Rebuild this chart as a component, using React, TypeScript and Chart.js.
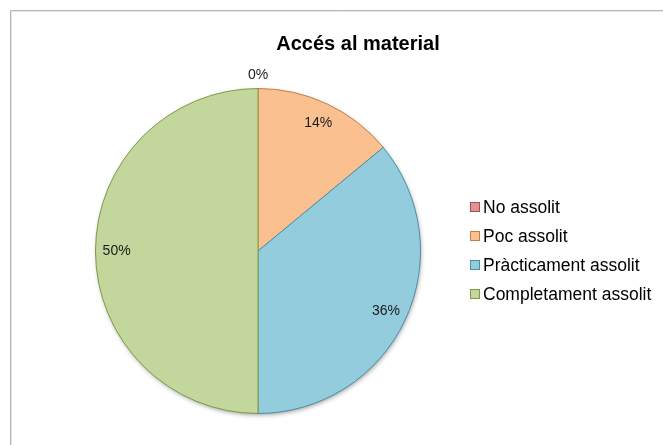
import React, { useEffect, useRef } from "react";
import { Chart, registerables } from "chart.js";

Chart.register(...registerables);

const TITLE = "Accés al material";
const categories = ["No assolit", "Poc assolit", "Pràcticament assolit", "Completament assolit"];
const values = [0, 14, 36, 50];
const fillColors = ["#D99694", "#FAC090", "#93CDDD", "#C3D69B"];
const borderColors = ["#A9504E", "#C27F49", "#4B8FA5", "#7E9A48"];

const decorPlugin = {
  id: "decor",
  beforeDraw(chart: any) {
    const ctx = chart.ctx;
    ctx.save();
    ctx.fillStyle = "#ffffff";
    ctx.fillRect(0, 0, chart.width, chart.height);
    ctx.strokeStyle = "#b8b8b8";
    ctx.lineWidth = 1;
    ctx.beginPath();
    ctx.moveTo(10.5, chart.height);
    ctx.lineTo(10.5, 10.5);
    ctx.lineTo(chart.width, 10.5);
    ctx.stroke();
    ctx.strokeStyle = "#e4e4e4";
    ctx.beginPath();
    ctx.moveTo(11.5, chart.height);
    ctx.lineTo(11.5, 11.5);
    ctx.lineTo(chart.width, 11.5);
    ctx.stroke();
    // title
    ctx.fillStyle = "#000";
    ctx.font = "bold 20px 'Liberation Sans', Arial, sans-serif";
    ctx.textAlign = "center";
    ctx.textBaseline = "middle";
    ctx.fillText(TITLE, 358, 44);
    // legend
    ctx.font = "17.5px 'Liberation Sans', Arial, sans-serif";
    ctx.textAlign = "left";
    const rows = [207, 236, 265, 294];
    categories.forEach((c, i) => {
      const y = rows[i];
      ctx.fillStyle = fillColors[i];
      ctx.fillRect(470.5, y - 4.5, 9, 9);
      ctx.strokeStyle = borderColors[i];
      ctx.strokeRect(470.5, y - 4.5, 9, 9);
      ctx.fillStyle = "#000";
      ctx.fillText(c, 483, y + 1);
    });
    ctx.restore();
  },
  beforeDatasetsDraw(chart: any) {
    const meta = chart.getDatasetMeta(0);
    const arc = meta.data.find((a: any) => a && a.outerRadius > 0);
    if (!arc) return;
    const ctx = chart.ctx;
    ctx.save();
    ctx.shadowColor = "rgba(0,0,0,0.45)";
    ctx.shadowBlur = 5;
    ctx.shadowOffsetX = 1;
    ctx.shadowOffsetY = 2;
    ctx.fillStyle = "#ffffff";
    ctx.beginPath();
    ctx.arc(arc.x, arc.y, arc.outerRadius - 1, 0, Math.PI * 2);
    ctx.fill();
    ctx.restore();
  },
  afterDatasetsDraw(chart: any) {
    const meta = chart.getDatasetMeta(0);
    const ctx = chart.ctx;
    ctx.save();
    ctx.font = "14px 'Liberation Sans', Arial, sans-serif";
    ctx.fillStyle = "#1a1a1a";
    ctx.textAlign = "center";
    ctx.textBaseline = "middle";
    meta.data.forEach((a: any, i: number) => {
      const mid = (a.startAngle + a.endAngle) / 2;
      const r = values[i] === 0 ? a.outerRadius + 13 : a.outerRadius * 0.87;
      const x = a.x + Math.cos(mid) * r;
      const y = a.y + Math.sin(mid) * r;
      ctx.fillText(values[i] + "%", x, y);
    });
    ctx.restore();
  },
};

export default function App() {
  const ref = useRef<HTMLCanvasElement>(null);
  useEffect(() => {
    if (!ref.current) return;
    const chart = new Chart(ref.current, {
      type: "pie",
      data: {
        labels: categories,
        datasets: [
          {
            data: values,
            backgroundColor: fillColors,
            borderColor: borderColors,
            borderWidth: 1,
          },
        ],
      },
      options: {
        animation: false,
        responsive: false,
        maintainAspectRatio: false,
        layout: { padding: { left: 95, right: 242, top: 88, bottom: 31 } },
        plugins: {
          legend: { display: false },
          title: { display: false },
          tooltip: { enabled: false },
        },
      },
      plugins: [decorPlugin],
    });
    return () => chart.destroy();
  }, []);
  return (
    <div style={{ position: "fixed", left: 0, top: 0, width: 663, height: 445 }}>
      <canvas ref={ref} width={663} height={445} style={{ width: 663, height: 445, display: "block" }} />
    </div>
  );
}
